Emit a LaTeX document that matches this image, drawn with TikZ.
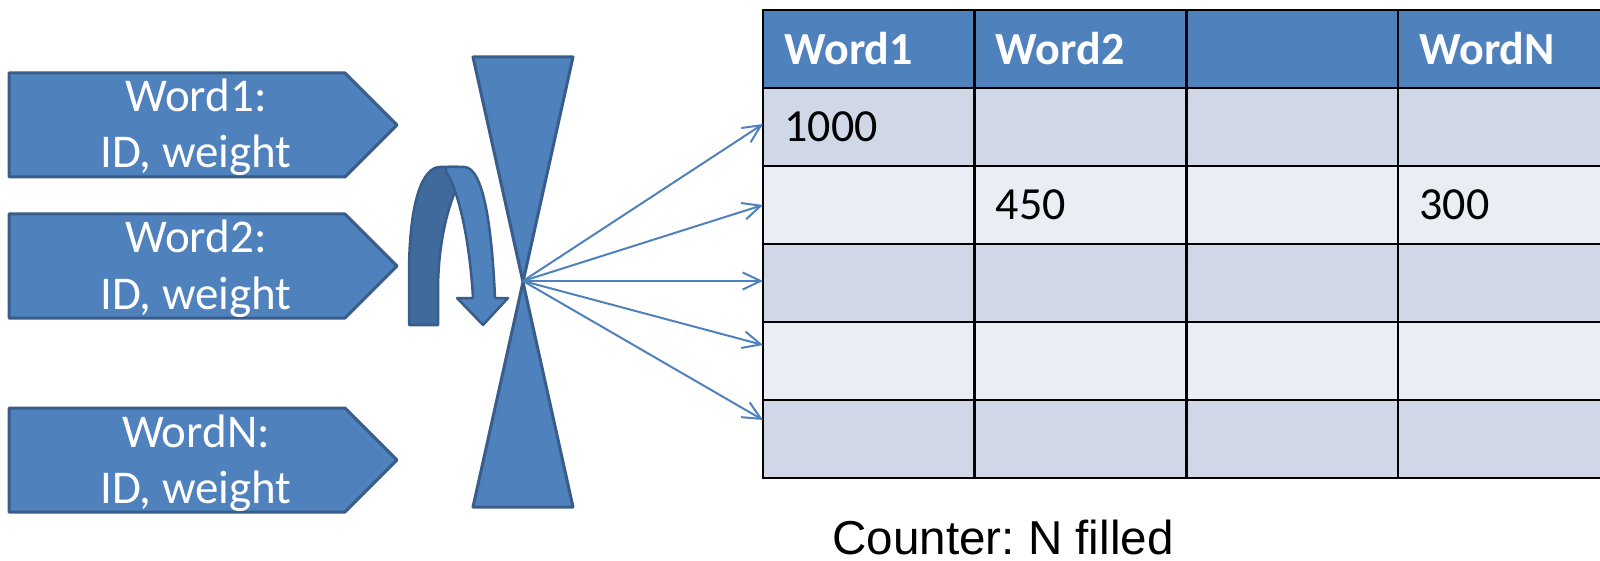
\documentclass[tikz,border=0pt]{standalone}
\usepackage{fontspec}
\setmainfont{Carlito}
\newfontfamily\arialf{Liberation Sans}
\usetikzlibrary{arrows.meta}
\definecolor{accent}{HTML}{4F81BD}
\definecolor{edge}{HTML}{385D8A}
\definecolor{backband}{HTML}{40699C}
\definecolor{rowdark}{HTML}{D0D8E8}
\definecolor{rowlight}{HTML}{E9EDF4}
\frenchspacing
\begin{document}
\begin{tikzpicture}[x=0.5pt,y=-0.5pt,
  shapefill/.style={fill=accent,draw=edge,line width=1.5pt,line join=round},
  lefttext/.style={text=white,font=\fontsize{23.5}{28}\selectfont,anchor=base,inner sep=0pt},
  cell/.style={draw=black,line width=1.25pt,anchor=north west,minimum width=105.75pt,minimum height=39pt,inner sep=0pt,outer sep=0pt},
  headtext/.style={text=white,font=\bfseries\fontsize{23}{28}\selectfont,anchor=west,inner sep=0pt},
  celltext/.style={text=black,font=\fontsize{23}{28}\selectfont,anchor=west,inner sep=0pt},
  fanarrow/.style={draw=accent,line width=1pt,-{Straight Barb[length=9pt,width=8.5pt]}}
]
\useasboundingbox (0,0) rectangle (1600,561);
\clip (0,0) rectangle (1600,561);

% input arrows
\draw[shapefill] (9,73) -- (345,73) -- (397,125) -- (345,177) -- (9,177) -- cycle;
\node[lefttext] (w1a) at (196,112) {Word1:};
\node[lefttext] (w1b) at (196,168) {ID, weight};

\draw[shapefill] (9,214) -- (345,214) -- (397,266) -- (345,318) -- (9,318) -- cycle;
\node[lefttext] (w2a) at (196,253) {Word2:};
\node[lefttext] (w2b) at (196,309) {ID, weight};

\draw[shapefill] (9,408) -- (345,408) -- (397,460) -- (345,512) -- (9,512) -- cycle;
\node[lefttext] (wna) at (196,447) {WordN:};
\node[lefttext] (wnb) at (196,503) {ID, weight};

% curved U-turn arrow
\draw[fill=backband,draw=edge,line width=1.25pt,line join=round]
  (409,325) -- (409,275) .. controls (409,203) and (422,167) .. (440,167)
  -- (458,167) -- (458,185) .. controls (444,215) and (438,255) .. (438,290)
  -- (438,325) -- cycle;
\draw[shapefill,line width=1.25pt]
  (447,173) .. controls (460,195) and (470,245) .. (473,298)
  -- (457,298) -- (483,325) -- (508,298) -- (495,298)
  .. controls (492,230) and (484,167) .. (464,167)
  -- (449,167) .. controls (445,167) and (445,170) .. (447,173) -- cycle;

% bowtie
\draw[shapefill] (473,57) -- (573,57) -- (473,507) -- (573,507) -- cycle;
\coordinate (hub) at (523,281);

% table
\foreach \c/\x in {1/763,2/974.5,3/1187,4/1398}{
  \node[cell,fill=accent] (h\c) at (\x,10) {};
  \foreach \r in {1,...,5}{
    \pgfmathtruncatemacro\odd{mod(\r,2)}
    \ifnum\odd=1 \def\rc{rowdark}\else\def\rc{rowlight}\fi
    \node[cell,fill=\rc] (c\r\c) at (\x,{10+78*\r}) {};
  }
}
\node[headtext] (t1) at ([xshift=10.5pt]h1.west) {Word1};
\node[headtext] (t2) at ([xshift=10.5pt]h2.west) {Word2};
\node[headtext] (t4) at ([xshift=10.5pt]h4.west) {WordN};
\node[celltext] (v11) at ([xshift=10.5pt]c11.west) {1000};
\node[celltext] (v22) at ([xshift=10.5pt]c22.west) {450};
\node[celltext] (v24) at ([xshift=10.5pt]c24.west) {300};

% fan arrows
\coordinate (e1) at (763,124);
\coordinate (e2) at (763,205);
\coordinate (e3) at (763,281);
\coordinate (e4) at (763,345);
\coordinate (e5) at (763,420);
\foreach \i in {1,...,5}{\draw[fanarrow] (hub) -- (e\i);}

\node[anchor=base west,inner sep=0pt,font=\arialf\fontsize{23.8}{28}\selectfont] (counter) at (832,554) {Counter: N filled};
\end{tikzpicture}
\end{document}
